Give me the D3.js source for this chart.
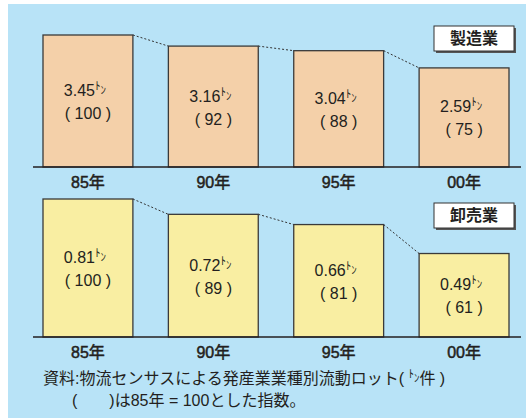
<!DOCTYPE html>
<html>
<head>
<meta charset="utf-8">
<script src="https://cdn.jsdelivr.net/npm/d3@7"></script>
<style>
  body { margin:0; background:#fff; }
  text { font-family:"Liberation Sans","Noto Sans CJK JP",sans-serif; fill:#231f20; }
</style>
</head>
<body>
<div class="container"></div>
<script>
// data
var years = ["85年","90年","95年","00年"];
var mfgTons = [3.45, 3.16, 3.04, 2.59];
var mfgIndex = [100, 92, 88, 75];
var wsTons = [0.81, 0.72, 0.66, 0.49];
var wsIndex = [100, 89, 81, 61];
var panelNames = ["製造業", "卸売業"];
var note1 = "資料:物流センサスによる発産業業種別流動ロット( ";
var note1b = "件 )";
var note2 = "(　　)は85年 = 100とした指数。";

var w = 526, h = 418;
var svg = d3.select(".container").append("svg")
  .attr("width", w).attr("height", h);

// background
svg.append("rect").attr("x", 8).attr("y", 4)
  .attr("width", w - 8).attr("height", h - 4)
  .attr("fill", "#b8e3f7");

var x = d3.scaleBand().domain(years).range([43, 509])
  .paddingInner(0.283).paddingOuter(0);

var panels = [
  {name: panelNames[0], tons: mfgTons, idx: mfgIndex, fill: "#f4d0a9",
   y: d3.scaleLinear().domain([0, d3.max(mfgTons)]).range([167, 35]),
   base: 167, boxY: 26},
  {name: panelNames[1], tons: wsTons, idx: wsIndex, fill: "#f9eea2",
   y: d3.scaleLinear().domain([0, d3.max(wsTons)]).range([337, 199]),
   base: 337, boxY: 203}
];

panels.forEach(function(p) {
  var g = svg.append("g");
  var rows = years.map(function(yr, i) { return {year: yr, t: p.tons[i], idx: p.idx[i]}; });

  // dotted connectors
  for (var i = 0; i < rows.length - 1; i++) {
    g.append("line")
      .attr("x1", x(rows[i].year) + x.bandwidth())
      .attr("y1", p.y(rows[i].t))
      .attr("x2", x(rows[i + 1].year))
      .attr("y2", p.y(rows[i + 1].t))
      .attr("stroke", "#333").attr("stroke-width", 1)
      .attr("stroke-dasharray", "2,2");
  }

  // bars
  g.selectAll(".bar").data(rows).enter().append("rect")
    .attr("x", function(d) { return x(d.year); })
    .attr("y", function(d) { return p.y(d.t); })
    .attr("width", x.bandwidth())
    .attr("height", function(d) { return p.base - p.y(d.t); })
    .attr("fill", p.fill)
    .attr("stroke", "#3a3a3a").attr("stroke-width", 1.3);

  // baseline
  g.append("line").attr("x1", 33).attr("x2", 521)
    .attr("y1", p.base).attr("y2", p.base)
    .attr("stroke", "#231f20").attr("stroke-width", 1.5);

  // value labels
  rows.forEach(function(d) {
    var cx = x(d.year) + x.bandwidth() / 2;
    var cy = (p.y(d.t) + p.base) / 2;
    var t1 = g.append("text").attr("x", cx - 3).attr("y", cy - 5)
      .attr("text-anchor", "middle").attr("font-size", 16);
    t1.append("tspan").text(d.t.toFixed(2));
    t1.append("tspan").attr("font-size", 11).attr("dy", -6).text("ﾄ");
    t1.append("tspan").attr("font-size", 11).attr("dy", 4).text("ﾝ");
    g.append("text").attr("x", cx).attr("y", cy + 18)
      .attr("text-anchor", "middle").attr("font-size", 16)
      .attr("xml:space", "preserve")
      .text("( " + d.idx + " )");
  });

  // year labels
  g.selectAll(".yr").data(rows).enter().append("text")
    .attr("x", function(d) { return x(d.year) + x.bandwidth() / 2; })
    .attr("y", p.base + 21)
    .attr("text-anchor", "middle").attr("font-size", 16)
    .attr("stroke", "#231f20").attr("stroke-width", 0.5)
    .text(function(d) { return d.year; });

  // name box
  g.append("rect").attr("x", 436).attr("y", p.boxY + 2)
    .attr("width", 80).attr("height", 25).attr("fill", "#555");
  g.append("rect").attr("x", 434).attr("y", p.boxY)
    .attr("width", 80).attr("height", 25)
    .attr("fill", "#fff").attr("stroke", "#333").attr("stroke-width", 1);
  g.append("text").attr("x", 474).attr("y", p.boxY + 18)
    .attr("text-anchor", "middle").attr("font-size", 16)
    .attr("font-weight", "bold").text(p.name);
});

// footnote
var n1 = svg.append("text").attr("x", 43).attr("y", 384).attr("font-size", 16)
  .attr("xml:space", "preserve");
n1.append("tspan").text(note1);
n1.append("tspan").attr("font-size", 11).attr("dy", -6).text("ﾄ");
n1.append("tspan").attr("font-size", 11).attr("dy", 4).text("ﾝ");
n1.append("tspan").attr("dy", 2).text(note1b);
svg.append("text").attr("x", 72).attr("y", 406).attr("font-size", 16)
  .attr("xml:space", "preserve").text(note2);
</script>
</body>
</html>
